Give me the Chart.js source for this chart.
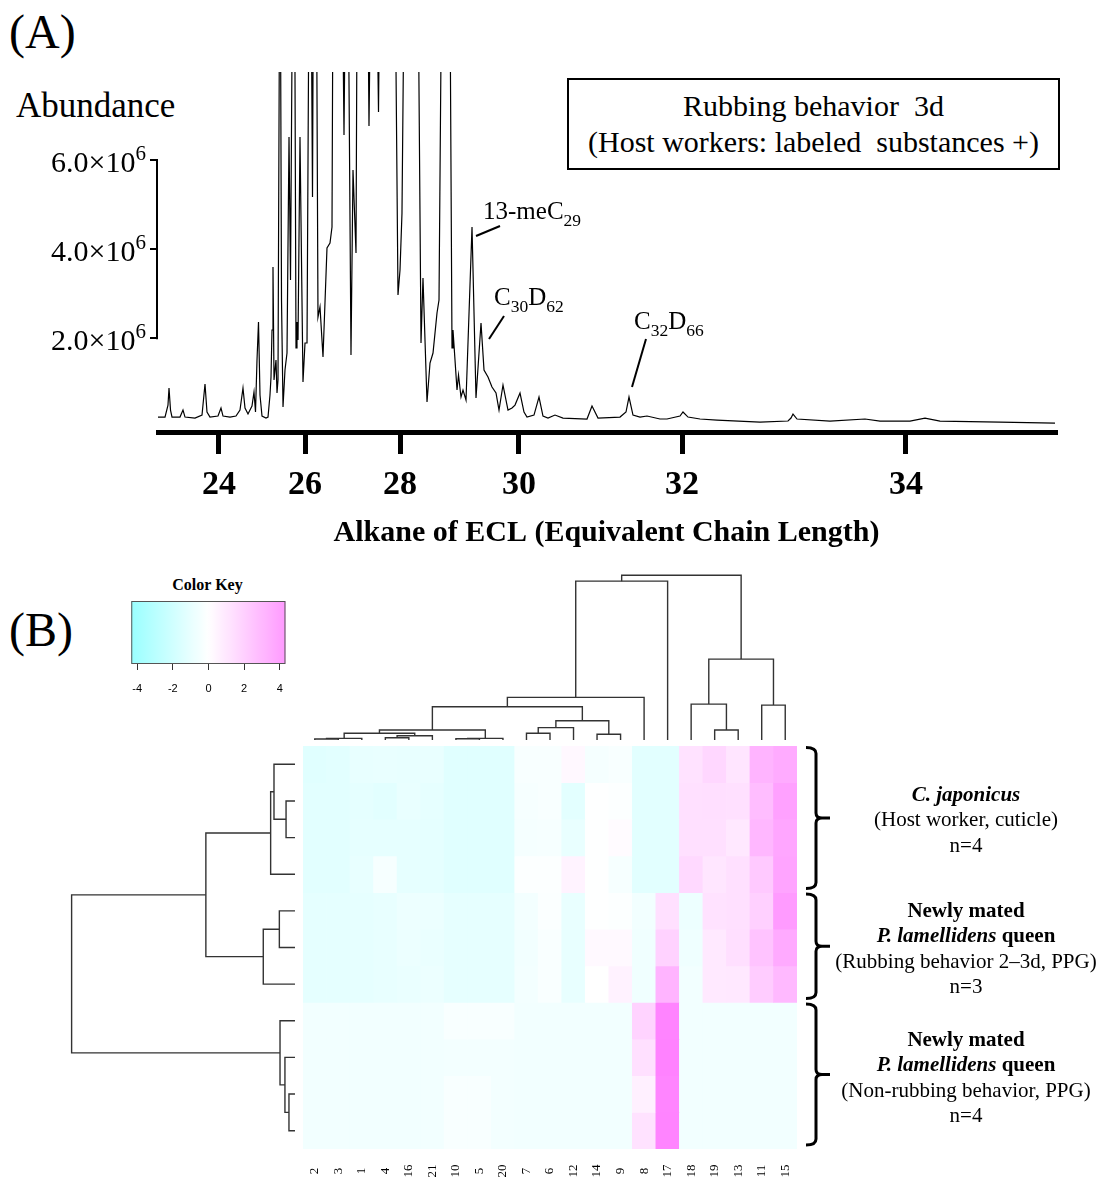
<!DOCTYPE html>
<html>
<head>
<meta charset="utf-8">
<script src="https://cdn.jsdelivr.net/npm/chart.js@4/dist/chart.umd.min.js"></script>
<style>
html, body { margin: 0; padding: 0; background: #fff; overflow: hidden; }
body { width: 1107px; height: 1180px; position: relative; font-family: "Liberation Serif", "Times New Roman", serif; color: #000; }
.abs { position: absolute; white-space: nowrap; }
canvas { position: absolute; }
.box { border: 2px solid #000; display: flex; flex-direction: column; justify-content: center; align-items: center; font-size: 30px; line-height: 36px; }
.grp { left: 826px; width: 280px; text-align: center; font-size: 21px; line-height: 25.4px; }
</style>
</head>
<body>
<div class="abs" style="left:9px;top:8px;font-size:48px;line-height:48px">(A)</div>
<div class="abs" style="left:16px;top:88px;font-size:35px;line-height:35px">Abundance</div>
<div class="abs box" style="left:567px;top:78px;width:489px;height:88px">
  <div>Rubbing behavior &nbsp;3d</div>
  <div>(Host workers: labeled &nbsp;substances +)</div>
</div>
<canvas id="chrom" width="1107" height="560" style="left:0;top:0"></canvas>

<div class="abs" style="left:9px;top:606px;font-size:48px;line-height:48px">(B)</div>
<div class="abs" style="left:120px;top:576px;width:175px;text-align:center;font-size:16px;font-weight:bold;line-height:18px">Color Key</div>
<canvas id="key" width="175" height="100" style="left:120px;top:598px"></canvas>
<canvas id="colDendro" width="494" height="174" style="left:303px;top:567px"></canvas>
<canvas id="rowDendro" width="237" height="403" style="left:60px;top:746px"></canvas>
<canvas id="heat" width="540" height="438" style="left:303px;top:742px"></canvas>

<div class="abs grp" style="top:782px"><b><i>C. japonicus</i></b><br>(Host worker, cuticle)<br>n=4</div>
<div class="abs grp" style="top:898px"><b>Newly mated</b><br><b><i>P. lamellidens</i> queen</b><br>(Rubbing behavior 2–3d, PPG)<br>n=3</div>
<div class="abs grp" style="top:1027px"><b>Newly mated</b><br><b><i>P. lamellidens</i> queen</b><br>(Non-rubbing behavior, PPG)<br>n=4</div>

<script>
const SERIF = '"Liberation Serif", "Times New Roman", serif';
const SANS = '"Liberation Sans", Arial, sans-serif';

// ---- (A) chromatogram: retention time (min) and abundance (x10^6) ----
const chromRt = [
  10.000,10.233,10.333,10.367,10.417,10.467,10.733,10.833,10.900,11.233,
  11.467,11.567,11.633,11.733,12.000,12.100,12.167,12.400,12.600,12.733,
  12.833,12.900,13.000,13.133,13.200,13.250,13.300,13.350,13.400,13.467,
  13.600,13.667,13.733,13.767,13.800,13.833,13.867,13.933,13.967,14.000,
  14.067,14.117,14.167,14.233,14.300,14.367,14.417,14.500,14.550,14.600,
  14.633,14.667,14.733,14.833,14.900,14.967,15.067,15.150,15.200,15.267,
  15.333,15.400,15.500,15.633,15.733,15.800,15.867,16.067,16.200,16.300,
  16.433,16.500,16.600,16.667,16.933,17.033,17.133,17.267,17.350,17.433,
  17.900,18.000,18.067,18.133,18.233,18.467,18.667,18.767,18.833,18.967,
  19.067,19.167,19.300,19.367,19.467,19.600,19.733,19.800,19.833,19.967,
  20.017,20.100,20.167,20.267,20.467,20.600,20.767,20.867,21.000,21.133,
  21.267,21.367,21.500,21.667,21.800,21.900,22.067,22.200,22.300,22.533,
  22.700,22.833,23.000,23.233,23.500,24.300,24.467,24.667,25.400,25.600,
  25.700,25.833,26.067,26.300,26.733,26.967,27.400,27.500,27.667,28.067,
  28.633,30.067,31.000,31.100,31.167,31.300,32.400,33.567,34.067,35.067,
  35.567,36.067,38.067,39.900
];
const chromAbund = [
  0.235,0.235,0.504,0.886,0.392,0.235,0.235,0.392,0.235,0.213,
  0.280,0.975,0.348,0.235,0.258,0.437,0.258,0.235,0.258,0.392,
  0.886,0.437,0.303,0.482,0.796,0.348,1.513,2.365,0.729,0.258,
  0.213,0.235,0.729,1.132,2.186,3.599,1.065,1.513,0.774,1.065,
  12.5,2.859,0.460,1.289,1.670,6.513,3.307,11.8,10.9,1.783,
  2.365,1.962,6.513,1.020,1.895,1.895,14.2,5.168,13.6,12.4,
  2.478,2.702,1.581,4.025,4.137,4.496,16.0,15.5,6.558,13.9,
  1.626,5.774,3.913,14.8,15.2,6.760,12.7,11.5,7.074,13.3,
  10.6,2.971,3.531,4.809,12.1,13.0,10.4,1.895,3.352,0.572,
  1.446,1.670,2.567,2.859,11.2,13.4,9.8,1.783,2.186,0.841,
  1.177,0.684,0.841,0.617,4.496,0.661,2.343,1.289,1.132,0.908,
  0.774,0.392,0.953,0.392,0.437,0.504,0.774,0.348,0.235,0.280,
  0.684,0.258,0.213,0.280,0.213,0.191,0.482,0.213,0.235,0.348,
  0.684,0.280,0.235,0.258,0.191,0.191,0.258,0.348,0.235,0.191,
  0.168,0.123,0.146,0.213,0.303,0.191,0.146,0.191,0.146,0.146,
  0.213,0.146,0.123,0.101
];
// alkane standards: ECL label and where it elutes
const eclLabels = [24, 26, 28, 30, 32, 34];
const eclRt = [12.03, 14.90, 18.07, 22.03, 27.47, 34.93];
const abundTicks = [2, 4, 6];

// labelled peaks
const peakRt = [20.467, 20.767, 25.700];
const peakAbund = [4.496, 2.343, 0.684];
const peakNames = [
  [['13-meC', 0], ['29', 1]],
  [['C', 0], ['30', 1], ['D', 0], ['62', 1]],
  [['C', 0], ['32', 1], ['D', 0], ['66', 1]]
];
// leader line / text offsets from the peak (px)
const peakLayout = [
  { line: [4, 9, 28, -1], text: [11, -8] },
  { line: [8, 16, 23, -7], text: [13, -18] },
  { line: [3, -10, 17, -58], text: [5, -68] }
];

// ---- (B) heatmap ----
const colLabels = ['2','3','1','4','16','21','10','5','20','7','6','12','14','9','8','17','18','19','13','11','15'];
const hostRows = [
  [-1.05,-1.0,-0.8,-0.75,-0.8,-0.75,-1.05,-1.05,-1.05,-0.25,-0.25,0.25,-0.35,-0.25,-1.0,-1.0,1.0,1.35,0.9,2.55,2.85],
  [-1.0,-1.0,-0.9,-1.0,-0.75,-0.85,-1.05,-1.05,-1.05,-0.3,-0.25,-0.95,-0.05,-0.1,-1.0,-1.0,1.05,1.1,1.05,2.25,3.2],
  [-1.0,-1.0,-0.85,-0.85,-0.85,-0.9,-1.05,-1.05,-1.05,-0.35,-0.3,-0.75,-0.05,0.15,-1.0,-1.0,1.05,1.05,0.8,2.45,3.05],
  [-1.0,-1.0,-0.8,-0.3,-0.85,-0.9,-1.05,-1.05,-1.05,-0.1,-0.1,0.4,-0.05,-0.3,-1.0,-1.0,1.3,0.85,1.05,1.85,3.1]
];
const rubbingRows = [
  [-0.9,-0.9,-0.85,-0.8,-0.6,-0.65,-0.85,-0.85,-0.85,-0.4,-0.15,-0.75,-0.05,-0.1,-0.45,1.05,-0.6,1.0,1.05,1.6,3.4],
  [-0.9,-0.9,-0.85,-0.8,-0.65,-0.7,-0.85,-0.85,-0.85,-0.45,-0.2,-0.8,0.2,0.2,-0.5,1.55,-0.55,0.75,1.1,2.05,2.9],
  [-0.9,-0.9,-0.85,-0.8,-0.7,-0.65,-0.85,-0.85,-0.85,-0.4,-0.2,-0.8,0.0,0.45,-0.5,2.55,-0.45,0.75,0.8,1.75,2.4]
];
const nonRubbingRows = [
  [-0.45,-0.45,-0.45,-0.45,-0.45,-0.45,-0.25,-0.25,-0.25,-0.45,-0.45,-0.45,-0.45,-0.45,1.5,4.2,-0.45,-0.45,-0.45,-0.45,-0.45],
  [-0.45,-0.45,-0.45,-0.45,-0.45,-0.45,-0.4,-0.4,-0.4,-0.45,-0.45,-0.45,-0.45,-0.45,1.05,4.25,-0.45,-0.45,-0.45,-0.45,-0.45],
  [-0.45,-0.45,-0.45,-0.45,-0.45,-0.45,-0.25,-0.25,-0.4,-0.45,-0.45,-0.45,-0.45,-0.45,0.5,4.15,-0.45,-0.45,-0.45,-0.45,-0.45],
  [-0.45,-0.45,-0.45,-0.45,-0.45,-0.45,-0.25,-0.25,-0.4,-0.45,-0.45,-0.45,-0.45,-0.45,1.0,4.2,-0.45,-0.45,-0.45,-0.45,-0.45]
];
const keyRange = [-4.33, 4.32];
const keyTicks = [-4, -2, 0, 2, 4];

// hclust-style merges: negative = leaf (compound no. / row no.), positive = earlier merge
const colMerges = [[-2,-3],[-1,1],[-4,-16],[3,-21],[2,4],[-10,-5],[6,-20],[5,7],[-7,-6],[9,-12],
                   [-14,-9],[10,11],[8,12],[13,-8],[14,-17],[-19,-13],[-18,16],[-11,-15],[17,18],[15,19]];
const colHeights = [0.06,0.10,0.14,0.26,0.41,0.08,0.10,0.61,0.41,0.75,
                    0.35,1.17,2.02,2.59,9.64,0.61,2.18,2.12,4.91,10.0];
const rowMerges = [[-2,-3],[-1,1],[2,-4],[-5,-6],[4,-7],[3,5],[-10,-11],[-9,7],[-8,8],[6,9]];
const rowHeights = [0.40,0.94,1.09,0.70,1.42,3.99,0.27,0.45,0.67,10.0];

Chart.defaults.font.family = SERIF;
Chart.defaults.color = '#000';

function colorFor(v) {
  const t = Math.min(1, Math.abs(v) / 4.33);
  const c = Math.round(255 - 127 * t);
  return v < 0 ? `rgb(${c},255,255)` : `rgb(255,${c},255)`;
}

// text with sub/superscript pieces: [text, 0 = normal, 1 = sub, 2 = sup]
function drawRich(ctx, parts, x, y, size, alignRight) {
  const fontOf = k => `${k ? size * 0.7 : size}px ${SERIF}`;
  let cx = x;
  if (alignRight) {
    parts.forEach(([t, k]) => { ctx.font = fontOf(k); cx -= ctx.measureText(t).width; });
  }
  parts.forEach(([t, k]) => {
    ctx.font = fontOf(k);
    const dy = k === 1 ? size * 0.27 : k === 2 ? -size * 0.4 : 0;
    ctx.fillText(t, cx, y + dy);
    cx += ctx.measureText(t).width;
  });
}

// short y axis line between the outer ticks, plus the 10^6 labels
const yAxisDecor = {
  id: 'yAxisDecor',
  afterDraw(chart) {
    const { ctx, scales: { y }, chartArea } = chart;
    const x = chartArea.left - 1;
    ctx.save();
    ctx.strokeStyle = '#000';
    ctx.fillStyle = '#000';
    ctx.lineWidth = 2;
    ctx.beginPath();
    ctx.moveTo(x, y.getPixelForValue(abundTicks[abundTicks.length - 1]) - 1);
    ctx.lineTo(x, y.getPixelForValue(abundTicks[0]) + 1);
    ctx.stroke();
    ctx.textBaseline = 'alphabetic';
    abundTicks.forEach(v => {
      const py = y.getPixelForValue(v);
      drawRich(ctx, [[v.toFixed(1) + '×10', 0], ['6', 2]], chartArea.left - 12, py + 12, 30, true);
    });
    ctx.restore();
  }
};

const peakLabels = {
  id: 'peakLabels',
  afterDraw(chart) {
    const { ctx, scales: { x, y } } = chart;
    ctx.save();
    ctx.strokeStyle = '#000';
    ctx.fillStyle = '#000';
    ctx.lineWidth = 2;
    ctx.textBaseline = 'alphabetic';
    peakRt.forEach((rt, i) => {
      const px = x.getPixelForValue(rt), py = y.getPixelForValue(peakAbund[i]);
      const L = peakLayout[i];
      ctx.beginPath();
      ctx.moveTo(px + L.line[0], py + L.line[1]);
      ctx.lineTo(px + L.line[2], py + L.line[3]);
      ctx.stroke();
      drawRich(ctx, peakNames[i], px + L.text[0], py + L.text[1], 25);
    });
    ctx.restore();
  }
};

new Chart(document.getElementById('chrom'), {
  type: 'line',
  data: {
    datasets: [{
      data: chromRt.map((t, i) => ({ x: t, y: chromAbund[i] })),
      borderColor: '#000',
      borderWidth: 1.2,
      pointRadius: 0,
      tension: 0
    }]
  },
  options: {
    responsive: false,
    animation: false,
    events: [],
    layout: { padding: { top: 72, right: 52, left: 0, bottom: 0 } },
    plugins: { legend: { display: false }, tooltip: { enabled: false } },
    scales: {
      x: {
        type: 'linear', min: 10, max: 39.9,
        afterBuildTicks: s => { s.ticks = eclRt.map(v => ({ value: v })); },
        afterFit: s => { s.height = 128; },
        ticks: {
          autoSkip: false, maxRotation: 0, padding: 11, color: '#000',
          font: { family: SERIF, size: 34, weight: 'bold' },
          callback: v => eclLabels[eclRt.indexOf(v)]
        },
        grid: { drawOnChartArea: false, tickLength: 22, lineWidth: 5, color: '#000' },
        border: { display: true, width: 5, color: '#000' },
        title: {
          display: true, text: 'Alkane of ECL (Equivalent Chain Length)', color: '#000',
          font: { family: SERIF, size: 30, weight: 'bold' }, padding: { top: 0, bottom: 9 }
        }
      },
      y: {
        min: -0.1, max: 7.97,
        afterBuildTicks: s => { s.ticks = abundTicks.map(v => ({ value: v })); },
        afterFit: s => { s.width = 158; },
        ticks: { display: false },
        grid: { drawOnChartArea: false, tickLength: 8, lineWidth: 2, color: '#000' },
        border: { display: false }
      }
    }
  },
  plugins: [yAxisDecor, peakLabels]
});

// ---- colour key ----
const keyFill = {
  id: 'keyFill',
  beforeDatasetsDraw(chart) {
    const { ctx, chartArea: a, scales: { x } } = chart;
    const g = ctx.createLinearGradient(a.left, 0, a.right, 0);
    for (let v = keyRange[0]; v <= keyRange[1] + 1e-9; v += 0.25) {
      const f = (x.getPixelForValue(v) - a.left) / (a.right - a.left);
      g.addColorStop(Math.max(0, Math.min(1, f)), colorFor(v * 0.8));
    }
    ctx.save();
    ctx.fillStyle = g;
    ctx.fillRect(a.left, a.top, a.right - a.left, a.bottom - a.top);
    ctx.strokeStyle = '#555';
    ctx.lineWidth = 1;
    ctx.strokeRect(a.left + 0.5, a.top + 0.5, a.right - a.left - 1, a.bottom - a.top - 1);
    ctx.restore();
  }
};

new Chart(document.getElementById('key'), {
  type: 'scatter',
  data: { datasets: [{ data: [] }] },
  options: {
    responsive: false, animation: false, events: [],
    layout: { padding: { left: 8, right: 8, top: 3, bottom: 0 } },
    plugins: { legend: { display: false }, tooltip: { enabled: false } },
    scales: {
      x: {
        type: 'linear', min: keyRange[0], max: keyRange[1],
        afterBuildTicks: s => { s.ticks = keyTicks.map(v => ({ value: v })); },
        afterFit: s => { s.height = 34; },
        ticks: { padding: 12, color: '#000', font: { family: SANS, size: 11 }, callback: v => String(v) },
        grid: { drawOnChartArea: false, tickLength: 6, color: '#333', lineWidth: 1 },
        border: { display: false }
      },
      y: { display: false, min: 0, max: 1 }
    }
  },
  plugins: [keyFill]
});

// ---- dendrograms ----
function dendroSegments(merges, heights, leafPos) {
  const pos = [], ht = [], segs = [];
  merges.forEach(([a, b], i) => {
    const pa = a < 0 ? leafPos(-a) : pos[a - 1], ha = a < 0 ? 0 : ht[a - 1];
    const pb = b < 0 ? leafPos(-b) : pos[b - 1], hb = b < 0 ? 0 : ht[b - 1];
    const h = heights[i];
    segs.push([[pa, ha], [pa, h], [pb, h], [pb, hb]]);
    pos.push((pa + pb) / 2);
    ht.push(h);
  });
  return segs;
}

function dendroChart(id, segs, sideways, xScale, yScale) {
  new Chart(document.getElementById(id), {
    type: 'scatter',
    data: {
      datasets: segs.map(seg => ({
        data: seg.map(([p, h]) => sideways ? { x: h, y: p } : { x: p, y: h }),
        showLine: true, borderColor: '#333', borderWidth: 1.4, pointRadius: 0, tension: 0, clip: false
      }))
    },
    options: {
      responsive: false, animation: false, events: [],
      layout: { padding: 0 },
      plugins: { legend: { display: false }, tooltip: { enabled: false } },
      scales: {
        x: Object.assign({ type: 'linear', display: false }, xScale),
        y: Object.assign({ type: 'linear', display: false }, yScale)
      }
    }
  });
}

const colSegs = dendroSegments(colMerges, colHeights, k => colLabels.indexOf(String(k)));
dendroChart('colDendro', colSegs, false, { min: -0.5, max: colLabels.length - 0.5 }, { min: -0.06, max: 10.5 });

const nRows = hostRows.length + rubbingRows.length + nonRubbingRows.length;
const rowSegs = dendroSegments(rowMerges, rowHeights, k => k - 0.5);
dendroChart('rowDendro', rowSegs, true, { min: -0.09, max: 10.52, reverse: true }, { min: 0, max: nRows, reverse: true });

// ---- heatmap ----
const allRows = [...hostRows, ...rubbingRows, ...nonRubbingRows];
const groupSizes = [hostRows.length, rubbingRows.length, nonRubbingRows.length];

const braces = {
  id: 'braces',
  afterDraw(chart) {
    const { ctx, chartArea: a, scales: { x, y } } = chart;
    const x0 = a.right + 9, xv = a.right + 19, xt = a.right + 33;
    ctx.save();
    ctx.strokeStyle = '#000';
    ctx.lineWidth = 3;
    let start = 0;
    groupSizes.forEach(n => {
      const t = y.getPixelForValue(start) + 1.5;
      const b = y.getPixelForValue(start + n) - 4;
      const m = (t + b) / 2;
      ctx.beginPath();
      ctx.moveTo(x0, t);
      ctx.quadraticCurveTo(xv, t, xv, t + 6);
      ctx.lineTo(xv, m - 5);
      ctx.quadraticCurveTo(xv, m, xv + 6, m);
      ctx.lineTo(xt, m);
      ctx.moveTo(x0, b);
      ctx.quadraticCurveTo(xv, b, xv, b - 6);
      ctx.lineTo(xv, m + 5);
      ctx.quadraticCurveTo(xv, m, xv + 6, m);
      ctx.stroke();
      start += n;
    });
    // column names, rotated and centred under each column
    ctx.fillStyle = '#000';
    ctx.font = `13px ${SERIF}`;
    ctx.textAlign = 'center';
    ctx.textBaseline = 'middle';
    colLabels.forEach((lab, i) => {
      ctx.save();
      ctx.translate(x.getPixelForTick(i), a.bottom + 22);
      ctx.rotate(-Math.PI / 2);
      ctx.fillText(lab, 0, 0);
      ctx.restore();
    });
    ctx.restore();
  }
};

new Chart(document.getElementById('heat'), {
  type: 'bar',
  data: {
    labels: colLabels,
    datasets: allRows.map((row, r) => ({
      data: row.map(() => [r, r + 1]),
      backgroundColor: row.map(colorFor),
      borderWidth: 0,
      barPercentage: 1,
      categoryPercentage: 1,
      grouped: false
    }))
  },
  options: {
    responsive: false, animation: false, events: [],
    layout: { padding: { top: 4, right: 46, left: 0, bottom: 0 } },
    plugins: { legend: { display: false }, tooltip: { enabled: false } },
    scales: {
      x: {
        afterFit: s => { s.height = 31; },
        ticks: { display: false },
        grid: { display: false },
        border: { display: false }
      },
      y: { display: false, min: 0, max: nRows, reverse: true }
    }
  },
  plugins: [braces]
});
</script>
</body>
</html>
